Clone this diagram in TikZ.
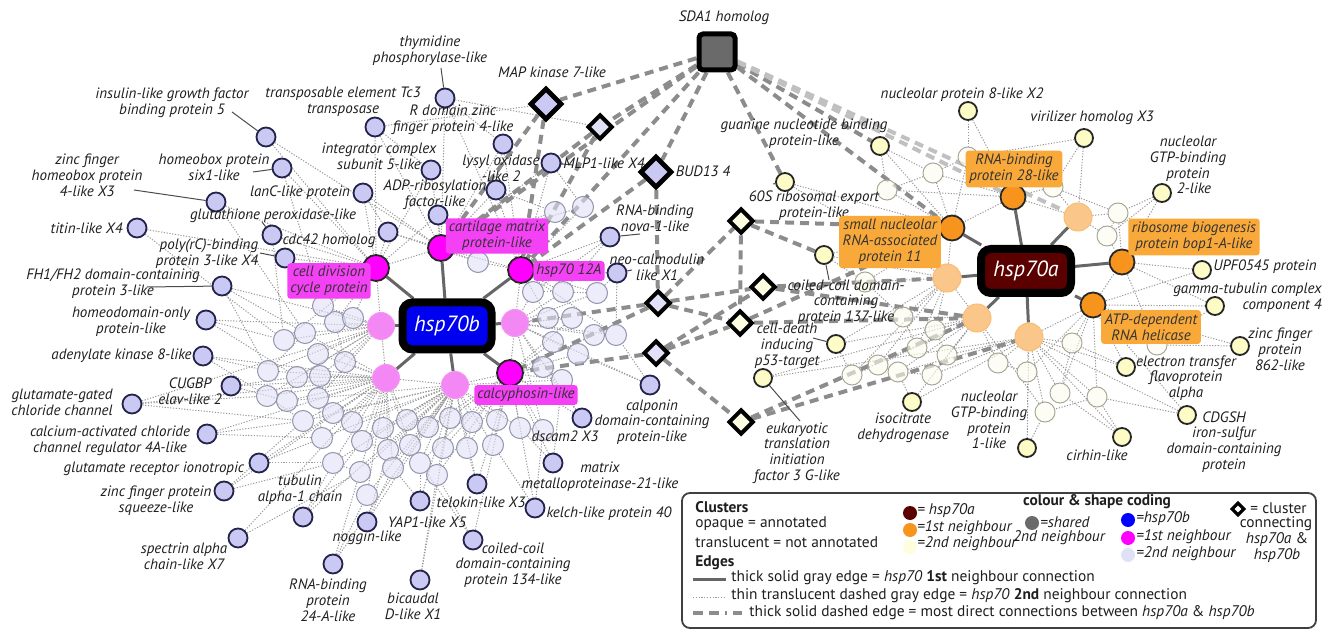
\documentclass[tikz,border=0pt]{standalone}
\usepackage{fontspec}
\setmainfont{PT Sans}
\usetikzlibrary{shapes.geometric}
\definecolor{txt}{HTML}{1E1E1E}
\definecolor{lav}{HTML}{C9C9F3}
\definecolor{lavd}{HTML}{22224A}
\definecolor{tlav}{HTML}{E0E0F6}
\definecolor{tlavd}{HTML}{9494AC}
\definecolor{cmag}{HTML}{FF00FF}
\definecolor{tmag}{HTML}{F27AF2}
\definecolor{magbox}{HTML}{F541F5}
\definecolor{corg}{HTML}{F7941D}
\definecolor{torg}{HTML}{FAC68A}
\definecolor{orgbox}{HTML}{F8A93A}
\definecolor{yel}{HTML}{FDFBC6}
\definecolor{tyel}{HTML}{FCFCEE}
\definecolor{tyeld}{HTML}{A8A898}
\definecolor{cMaroon}{HTML}{5A0000}
\definecolor{hubblue}{HTML}{0000F0}
\definecolor{sdagray}{HTML}{6A6A6A}
\definecolor{cream}{HTML}{FDFDE2}
\definecolor{e1c}{HTML}{666666}
\definecolor{e2c}{HTML}{999999}
\definecolor{edc}{HTML}{8C8C8C}
\pgfdeclarelayer{bg}
\pgfsetlayers{bg,main}
\begin{document}
\begin{tikzpicture}[x=0.5pt,y=-0.5pt,
  lab/.style={font=\fontsize{7.5}{7.9}\selectfont\itshape, text=txt, align=center, inner sep=0pt},
  leg/.style={font=\fontsize{7.7}{8.5}\selectfont, text=txt, inner sep=0pt, anchor=west},
  legi/.style={leg, font=\fontsize{7.7}{8.5}\selectfont\itshape},
  lead/.style={draw=black!70, line width=0.5pt},
  o2b/.style={circle, draw=lavd, fill=lav, line width=0.9pt, minimum size=9.5pt, inner sep=0pt},
  t2b/.style={circle, draw=tlavd, fill=tlav, fill opacity=0.6, line width=0.5pt, minimum size=10.5pt, inner sep=0pt},
  m1/.style={circle, draw=black!85, fill=cmag, line width=0.9pt, minimum size=13pt, inner sep=0pt},
  tm1/.style={circle, draw=tmag!80!white, fill=tmag, fill opacity=0.9, line width=0.5pt, minimum size=13.5pt, inner sep=0pt},
  o1/.style={circle, draw=black!85, fill=corg, line width=0.9pt, minimum size=12.5pt, inner sep=0pt},
  to1/.style={circle, draw=torg!80!corg, fill=torg, line width=0.5pt, minimum size=14pt, inner sep=0pt},
  y2/.style={circle, draw=black!85, fill=yel, line width=0.9pt, minimum size=9pt, inner sep=0pt},
  ty2/.style={circle, draw=tyeld, fill=tyel, fill opacity=0.6, line width=0.5pt, minimum size=10pt, inner sep=0pt},
  dia/.style={diamond, aspect=1, draw=black, line width=2.4pt, inner sep=0pt, minimum size=16pt},
  dias/.style={diamond, aspect=1, draw=black, line width=2pt, inner sep=0pt, minimum size=12.5pt},
  sda/.style={rectangle, rounded corners=2pt, draw=black, line width=2.5pt, fill=sdagray, minimum size=18pt},
  hub/.style={rectangle, rounded corners=5pt, draw=black, line width=4pt, text=white,
     font=\fontsize{11}{11}\selectfont\itshape, minimum width=44.5pt, minimum height=23.5pt},
  mbox/.style={lab, fill=magbox, text=black!80, rounded corners=1.5pt, inner sep=1.5pt},
  obox/.style={lab, fill=orgbox, text=black!80, rounded corners=1.5pt, inner sep=1.8pt},
  e1/.style={draw=e1c, line width=1.5pt},
  e2/.style={draw=e2c, line width=0.5pt, dash pattern=on 0.6pt off 0.8pt},
  ed/.style={draw=edc, line width=2pt, dash pattern=on 4.5pt off 3pt},
  edl/.style={draw=edc!55, line width=2pt, dash pattern=on 4.5pt off 3pt}
]
\useasboundingbox (0,0) rectangle (1333,630);

% ---------------- hubs ----------------
\node[hub, fill=hubblue] (hB) at (447,326) {hsp70b};
\node[hub, fill=cMaroon, minimum width=45pt, minimum height=22pt] (hA) at (1026,271) {hsp70a};

% ---------------- first neighbours ----------------
\node[m1] (Mcd) at (376,268) {};
\node[m1] (Mcm) at (441,248) {};
\node[m1] (Mh12) at (521,270) {};
\node[m1] (Mcal) at (510,373) {};
\node[tm1] (Mt1) at (381,326) {};
\node[tm1] (Mt2) at (515,323) {};
\node[tm1] (Mt3) at (386,378) {};
\node[tm1] (Mt4) at (455,385) {};

\node[o1] (Orb) at (1013,197) {};
\node[o1] (Osn) at (952,228) {};
\node[o1] (Obop) at (1122,262) {};
\node[o1] (Oatp) at (1093,305) {};
\node[to1] (Ot1) at (1078,217) {};
\node[to1] (Ot2) at (947,278) {};
\node[to1] (Ot3) at (977,318) {};
\node[to1] (Ot4) at (1029,337) {};

% ---------------- diamonds / shared ----------------
\node[dia, fill=lav] (DMap) at (546,104) {};
\node[dias, fill=tlav] (Dsm) at (600,127) {};
\node[dia, fill=lav] (DBud) at (656,172) {};
\node[dias, fill=tlav] (DL1) at (658,303) {};
\node[dias, fill=tlav] (DL2) at (656,353) {};
\node[dias, fill=cream] (DY1) at (741,221) {};
\node[dias, fill=cream] (DY2) at (763,287) {};
\node[dias, fill=cream] (DY3) at (740,323) {};
\node[dias, fill=cream] (DY4) at (741,422) {};
\node[sda] (SDA) at (717,52) {};

% ---------------- translucent 2nd neighbours of hsp70b ----------------
\foreach \n/\x/\y in {L1/478/262, L2/533/292, L3/563/292, L4/597/293, L5/548/318, L6/572/318,
  L7/594/335, L8/616/335, L9/553/342, L10/578/354, L11/543/367, L12/562/380, L13/335/322,
  L14/353/318, L15/323/306, L16/305/333, L17/284/340, L18/318/354, L19/345/362, L20/268/371,
  L21/297/377, L22/320/376, L23/267/396, L24/287/401, L25/318/398, L26/333/413, L27/303/421,
  L28/322/438, L29/333/463, L30/352/422, L31/362/441, L32/383/428, L33/407/420, L34/428/427,
  L35/450/418, L36/472/422, L37/497/420, L38/520/428, L39/543/430, L40/388/450, L41/410/445,
  L42/443/448, L43/467/448, L44/493/445, L45/360/472, L46/393/468, L47/420/463, L48/437/475,
  L49/367/495, L50/555/212, L51/583/207}
  \node[t2b] (\n) at (\x,\y) {};

% ---------------- annotated 2nd neighbours of hsp70b ----------------
\foreach \n/\x/\y in {A1/266/137, A2/282/168, A3/216/202, A4/363/193, A5/272/235, A6/388/232,
  A7/285/258, A8/137/228, A9/222/286, A10/206/320, A11/203/356, A12/231/386, A13/132/404,
  A14/207/434, A15/259/463, A16/224/491, A17/303/517, A18/238/538, A19/333/564, A20/367/522,
  A21/420/580, A22/420/501, A23/477/484, A24/473/540, A25/535/508, A26/553/463, A27/582/418,
  A28/650/385, A29/617/273, A30/610/237, A31/375/127, A32/445/98, A33/503/144, A34/431/170,
  A35/496/190, A36/551/163, A37/438/215}
  \node[o2b] (\n) at (\x,\y) {};

% ---------------- 2nd neighbours of hsp70a ----------------
\foreach \n/\x/\y in {Y1/968/157, Y2/933/173, Y3/887/190, Y4/1053/187, Y5/1118/213, Y6/1107/236,
  Y7/865/282, Y8/903/317, Y9/935/330, Y10/917/348, Y11/947/355, Y12/878/365, Y13/898/372,
  Y14/852/375, Y15/932/375, Y16/998/363, Y17/1027/372, Y18/1072/343, Y19/1060/393,
  Y20/1097/397, Y21/1045/412, Y22/1157/345}
  \node[ty2] (\n) at (\x,\y) {};
\foreach \n/\x/\y in {B1/968/111, B2/1084/138, B3/1162/193, B4/880/146, B5/785/182, B6/824/255,
  B7/836/344, B8/763/378, B9/912/402, B10/1027/448, B11/1202/270, B12/1215/306, B13/1240/346,
  B14/1126/367, B15/1187/415, B16/1122/437}
  \node[y2] (\n) at (\x,\y) {};

% ---------------- edges ----------------
\begin{pgfonlayer}{bg}
\foreach \a/\b/\c in {L1/Mcm/Mh12, L2/Mh12/Mt2, L3/Mh12/Mt2, L4/Mh12/Mt2, L5/Mt2/Mh12, L6/Mt2/Mcal,
  L7/Mt2/Mcal, L8/Mt2/Mh12, L9/Mt2/Mcal, L10/Mcal/Mt2, L11/Mcal/Mt2, L12/Mcal/Mt4, L13/Mt1/Mcd,
  L14/Mt1/Mcd, L15/Mcd/Mt1, L16/Mt1/Mt3, L17/Mt1/Mcd, L18/Mt1/Mt3, L19/Mt3/Mt1, L20/Mt1/Mt3,
  L21/Mt3/Mt1, L22/Mt3/Mt1, L23/Mt3/Mt1, L24/Mt3/Mt4, L25/Mt3/Mt1, L26/Mt3/Mt4, L27/Mt3/Mt4,
  L28/Mt3/Mt4, L29/Mt3/Mt4, L30/Mt3/Mt4, L31/Mt3/Mt4, L32/Mt3/Mt4, L33/Mt4/Mt3, L34/Mt4/Mcal,
  L35/Mt4/Mcal, L36/Mt4/Mcal, L37/Mcal/Mt4, L38/Mcal/Mt4, L39/Mcal/Mt2, L40/Mt3/Mt4, L41/Mt4/Mt3,
  L42/Mt4/Mcal, L43/Mt4/Mcal, L44/Mcal/Mt4, L45/Mt3/Mt4, L46/Mt4/Mt3, L47/Mt4/Mcal, L48/Mt4/Mcal,
  L49/Mt3/Mt4, L50/Mcm/Mh12, L51/Mh12/Mcm,
  A1/Mcd/Mcm, A2/Mcd/L15, A3/Mcd/L16, A4/Mcm/Mcd, A5/Mcd/L17, A6/Mcd/Mcm, A7/Mcd/L15, A8/Mcd/L17,
  A9/Mt1/L20, A10/Mt1/L21, A11/Mt3/L23, A12/Mt3/L24, A13/Mt3/L27, A14/Mt3/L28, A15/Mt3/L29,
  A16/Mt3/L29, A17/Mt4/L31, A18/Mt3/L45, A19/Mt4/L49, A20/Mt4/L46, A21/Mt4/L48, A22/Mt4/L47,
  A23/Mcal/Mt4, A24/Mcal/L48, A25/Mcal/L39, A26/Mcal/L12, A27/Mt2/Mcal, A28/Mt2/L8, A29/Mh12/L4,
  A30/Mh12/L3, A31/Mcd/Mcm, A32/Mcm/Mh12, A33/Mcm/Mh12, A34/Mcm/Mcd, A35/Mcm/Mh12, A36/Mh12/Mcm,
  A37/Mcm/Mcd, A13/L23/Mt1, A32/Dsm/A33, A31/DMap/A34,
  Mcd/Mcm/Mt1, Mh12/Mcm/Mt2, Mt3/Mt1/Mt4, Mcal/Mt4/Mt2,
  B1/Y1/Orb, B2/Ot1/Y4, B3/Obop/Y5, B4/Osn/Y2, B5/Osn/Ot2, B6/Ot2/Osn, B7/Ot3/Ot2, B8/Ot3/Ot4,
  B9/Ot4/Ot3, B10/Ot4/Y21, B11/Obop/Oatp, B12/Oatp/Obop, B13/Oatp/Y22, B14/Oatp/Ot4, B15/Ot4/Oatp,
  B16/Ot4/Y20, Y1/Orb/Osn, Y2/Osn/Orb, Y3/Osn/Orb, Y4/Orb/Ot1, Y5/Ot1/Obop, Y6/Ot1/Obop,
  Y7/Ot2/Osn, Y8/Ot2/Ot3, Y9/Ot3/Ot2, Y10/Ot3/Ot2, Y11/Ot3/Ot4, Y12/Ot2/Ot3, Y13/Ot3/Ot4,
  Y14/Ot2/Ot3, Y15/Ot3/Ot4, Y16/Ot4/Ot3, Y17/Ot4/Oatp, Y18/Oatp/Ot4, Y19/Ot4/Oatp, Y20/Ot4/Oatp,
  Y21/Ot4/Ot3, Y22/Oatp/Obop, Orb/Osn/Ot1, Oatp/Obop/Ot4, Ot2/Osn/Ot3}
  {\draw[e2] (\a) -- (\b); \draw[e2] (\a) -- (\c);}
% extra web of 2nd-neighbour links
\foreach \a/\b in {L13/L19, L16/L20, L18/L22, L21/L24, L23/L27, L25/L28, L26/L30, L29/L45,
  L31/L40, L32/L33, L34/L41, L35/L42, L36/L43, L37/L44, L38/L39, L11/L12, L9/L10, L5/L6, L2/L3,
  L3/L4, L7/L8, A9/L16, A10/L17, A11/L20, A12/L21, A14/L27, A15/L28, A16/L27, A17/L29, A19/L45,
  A20/L40, A22/L46, A23/L43, A24/L47, A25/L44, A26/L38, A27/L11, A28/L10, A29/L8, A30/L2,
  A6/L1, A37/L1, A4/A6, A35/L50, A36/L51, A33/A35,
  Y8/Y10, Y9/Y11, Y12/Y14, Y13/Y15, Y16/Y17, Y18/Y19, Y20/Y21, Y7/Y8, Y1/Y2, Y2/Y3, Y4/Y5,
  Y5/Y6, B7/Y14, B9/Y13, B10/Y17, B14/Y18, B16/Y19, B15/Y20, B12/Y22, B6/Y7, B4/Y3, B3/Y6, B2/Y1}
  \draw[e2] (\a) -- (\b);

% thick dashed: most direct connections
\foreach \a/\b in {SDA/DMap, SDA/Dsm, SDA/DBud, SDA/Mcm, SDA/Mh12, SDA/B5, SDA/B4, SDA/Osn,
  DMap/Mh12, DMap/Mcm, Dsm/Mcm, Dsm/Mh12, DBud/Mh12, DBud/DL1, DL1/Mt2, DL1/DY1, DL1/DY3,
  DL1/DY2, DL1/Mcal, DL2/Mcal, DL2/DY3, DL2/DY4, DL2/DY2, DY1/Osn, DY1/DY3, DY2/Ot2, DY2/Ot3,
  DY3/Osn, DY3/Ot3, DY4/Ot3, DY4/Ot4, DY1/B6}
  \draw[ed] (\a) -- (\b);
\draw[edl] (SDA) -- (Orb);
\draw[edl] (SDA) -- (Ot1);

% thick solid: first neighbours
\foreach \m in {Mcd,Mcm,Mh12,Mcal,Mt1,Mt2,Mt3,Mt4} \draw[e1] (hB) -- (\m);
\foreach \m in {Orb,Osn,Obop,Oatp,Ot1,Ot2,Ot3,Ot4} \draw[e1] (hA) -- (\m);

% leader lines
\draw[lead] (232,112) -- (A1);
\draw[lead] (253,172) -- (A2);
\draw[lead] (134,190) -- (A3);
\draw[lead] (260,253) -- (A7);
\draw[lead] (262,222) -- (A5);
\draw[lead] (147,287) -- (A9);
\draw[lead] (441,68) -- (A32);
\draw[lead] (640,234) -- (A30);
\draw[lead] (632,270) -- (A29);
\draw[lead] (573,165) -- (A36);
\draw[lead] (829,280) -- (B6);
\draw[lead] (813,338) -- (B7);
\draw[lead] (800,421) -- (B8);
\draw[lead] (773,184) -- (B5);
\end{pgfonlayer}

% ---------------- labels: hsp70b side ----------------
\node[lab] (tA1) at (172,103) {insulin-like growth factor\\binding protein 5};
\node[lab] (tA2) at (214,167) {homeobox protein\\six1-like};
\node[lab] (tA3) at (87,175) {zinc finger\\homeobox protein\\4-like X3};
\node[lab] (tA4) at (300,193) {lanC-like protein};
\node[lab] (tA5) at (273,216) {glutathione peroxidase-like};
\node[lab] (tA6) at (329,241) {cdc42 homolog};
\node[lab, align=right] (tA7) at (207,254) {poly(rC)-binding\\protein 3-like X4};
\node[lab, anchor=east] (tA8) at (123,228) {titin-like X4};
\node[lab] (tA9) at (113,284) {FH1/FH2 domain-containing\\protein 3-like};
\node[lab] (tA10) at (131,322) {homeodomain-only\\protein-like};
\node[lab, anchor=east] (tA11) at (192,356) {adenylate kinase 8-like};
\node[lab] (tA12) at (190,391) {CUGBP\\elav-like 2};
\node[lab] (tA13) at (62,402) {glutamate-gated\\chloride channel};
\node[lab] (tA14) at (110,441) {calcium-activated chloride\\channel regulator 4A-like};
\node[lab] (tA15) at (154,469) {glutamate receptor ionotropic};
\node[lab] (tA16) at (156,501) {zinc finger protein\\squeeze-like};
\node[lab] (tA17) at (300,490) {tubulin\\alpha-1 chain};
\node[lab] (tA18) at (184,556) {spectrin alpha\\chain-like X7};
\node[lab] (tA19) at (328,600) {RNA-binding\\protein\\24-A-like};
\node[lab] (tA20) at (367,538) {noggin-like};
\node[lab] (tA21) at (413,606) {bicaudal\\D-like X1};
\node[lab] (tA22) at (427,522) {YAP1-like X5};
\node[lab] (tA23) at (481,502) {telokin-like X3};
\node[lab] (tA24) at (513,565) {coiled-coil\\domain-containing\\protein 134-like};
\node[lab] (tA25) at (609,514) {kelch-like protein 40};
\node[lab] (tA26) at (600,477) {matrix\\metalloproteinase-21-like};
\node[lab] (tA27) at (565,436) {dscam2 X3};
\node[lab] (tA28) at (652,422) {calponin\\domain-containing\\protein-like};
\node[lab] (tA29) at (657,267) {neo-calmodulin\\like X1};
\node[lab] (tA30) at (655,218) {RNA-binding\\nova-1-like};
\node[lab] (tA31) at (343,102) {transposable element Tc3\\transposase};
\node[lab] (tA32) at (430,51) {thymidine\\phosphorylase-like};
\node[lab] (tA33) at (453,120) {R domain zinc\\finger protein 4-like};
\node[lab] (tA34) at (379,156) {integrator complex\\subunit 5-like};
\node[lab] (tA35) at (435,195) {ADP-ribosylation\\factor-like};
\node[lab] (tA36) at (501,168) {lysyl oxidase\\-like 2};
\node[lab] (tA37) at (604,163) {MLP1-like X4};
\node[lab] (tMap) at (552,72) {MAP kinase 7-like};
\node[lab] (tBud) at (703,171) {BUD13 4};
\node[lab] (tSda) at (724,18) {SDA1 homolog};

\node[mbox] (bMcd) at (329,281) {cell division\\cycle protein};
\node[mbox] (bMcm) at (497,236) {cartilage matrix\\protein-like};
\node[mbox] (bMh12) at (569,271) {hsp70 12A};
\node[mbox] (bMcal) at (526,395) {calcyphosin-like};

% ---------------- labels: hsp70a side ----------------
\node[lab] (tB1) at (962,95) {nucleolar protein 8-like X2};
\node[lab] (tB2) at (1092,118) {virilizer homolog X3};
\node[lab] (tB3) at (1188,165) {nucleolar\\GTP-binding\\protein\\\hspace{6pt}2-like};
\node[lab] (tB4) at (804,134) {guanine nucleotide binding\\protein-like};
\node[lab] (tB5) at (814,206) {60S ribosomal export\\protein-like};
\node[lab] (tB6) at (846,302) {coiled-coil domain-\\containing\\protein 137-like};
\node[lab] (tB7) at (787,346) {cell-death\\inducing\\p53-target};
\node[lab] (tB8) at (797,453) {eukaryotic\\translation\\initiation\\factor 3 G-like};
\node[lab] (tB9) at (903,428) {isocitrate\\dehydrogenase};
\node[lab] (tB10) at (989,420) {nucleolar\\GTP-binding\\protein\\1-like};
\node[lab, anchor=west] (tB11) at (1213,267) {UPF0545 protein};
\node[lab, align=right, anchor=east] (tB12) at (1322,298) {gamma-tubulin complex\\component 4};
\node[lab] (tB13) at (1280,349) {zinc finger\\protein\\862-like};
\node[lab] (tB14) at (1186,378) {electron transfer\\flavoprotein\\alpha};
\node[lab] (tB15) at (1224,442) {CDGSH\\iron-sulfur\\domain-containing\\protein};
\node[lab] (tB16) at (1097,455) {cirhin-like};

\node[obox] (bOrb) at (1014,169) {RNA-binding\\protein 28-like};
\node[obox] (bOsn) at (890,242) {small nucleolar\\RNA-associated\\protein 11};
\node[obox] (bObop) at (1194,237) {ribosome biogenesis\\protein bop1-A-like};
\node[obox] (bOatp) at (1151,327) {ATP-dependent\\RNA helicase};

% ---------------- legend ----------------
\node[draw=black!75, line width=0.9pt, rounded corners=4pt, minimum width=317pt, minimum height=67.5pt,
      inner sep=0pt] (legbox) at (999,560.5) {};
\node[leg, font=\fontsize{7.7}{8.5}\selectfont\bfseries] (lg1) at (695,507) {Clusters};
\node[leg] (lg2) at (695,524) {opaque = annotated};
\node[leg] (lg3) at (695,542) {translucent = not annotated};
\node[leg, font=\fontsize{7.7}{8.5}\selectfont\bfseries] (lg4) at (695,563) {Edges};
\coordinate (k1a) at (693,579); \coordinate (k1b) at (726,579);
\coordinate (k2a) at (693,597); \coordinate (k2b) at (726,597);
\coordinate (k3a) at (693,613); \coordinate (k3b) at (742,613);
\draw[e1] (k1a) -- (k1b);
\draw[e2] (k2a) -- (k2b);
\draw[draw=edc, line width=2pt, dash pattern=on 5pt off 3pt on 5pt off 3pt on 1pt off 3pt] (k3a) -- (k3b);
\node[leg] (lg5) at (731,578) {thick solid gray edge = \textit{hsp70} \textbf{1st} neighbour connection};
\node[leg] (lg6) at (731,596) {thin translucent dashed gray edge = \textit{hsp70} \textbf{2nd} neighbour connection};
\node[leg] (lg7) at (749,613) {thick solid dashed edge = most direct connections between \textit{hsp70a} \& \textit{hsp70b}};

\node[circle, fill=cMaroon, minimum size=7pt, inner sep=0pt] (kc1) at (910,513) {};
\node[circle, fill=corg, minimum size=7pt, inner sep=0pt] (kc2) at (910,530) {};
\node[circle, fill=yel!60, minimum size=7pt, inner sep=0pt] (kc3) at (910,547) {};
\node[legi] (lk1) at (917,511) {= hsp70a};
\node[legi] (lk2) at (917,528) {=1st neighbour};
\node[legi] (lk3) at (917,544) {=2nd neighbour};
\node[leg, anchor=center, font=\fontsize{7.7}{8.5}\selectfont\bfseries] (lk4) at (1097,502) {colour \& shape coding};
\node[circle, fill=sdagray, minimum size=7pt, inner sep=0pt] (kc4) at (1032,523) {};
\node[legi] (lk5) at (1040,522) {=shared};
\node[legi, anchor=center] (lk6) at (1059,538) {2nd neighbour};
\node[circle, fill=blue, minimum size=7pt, inner sep=0pt] (kc5) at (1128,520) {};
\node[circle, fill=cmag, minimum size=7pt, inner sep=0pt] (kc6) at (1128,538) {};
\node[circle, fill=tlav, minimum size=7pt, inner sep=0pt] (kc7) at (1128,555) {};
\node[legi] (lk7) at (1136,519) {=hsp70b};
\node[legi] (lk8) at (1136,537) {=1st neighbour};
\node[legi] (lk9) at (1136,554) {=2nd neighbour};
\node[diamond, aspect=1, draw=black, line width=1.6pt, fill=white, minimum size=6.5pt, inner sep=0pt] (kd) at (1238,509) {};
\node[leg] (lk10) at (1250,508) {= cluster};
\node[leg, anchor=center] (lk11) at (1276,524) {connecting};
\node[leg, anchor=center] (lk12) at (1277,540) {\textit{hsp70a} \&};
\node[leg, anchor=center] (lk13) at (1277,556) {\textit{hsp70b}};
\end{tikzpicture}
\end{document}
